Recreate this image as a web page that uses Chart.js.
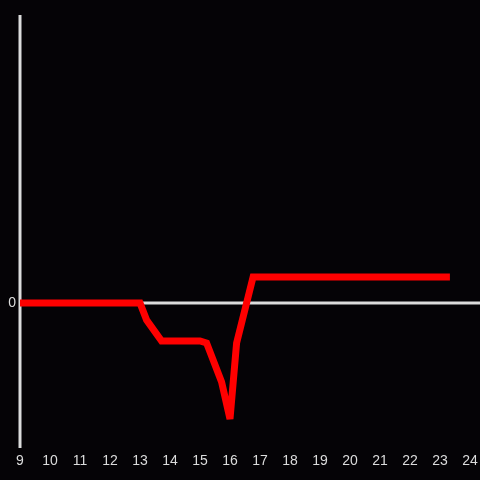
<!DOCTYPE html>
<html>
<head>
<meta charset="utf-8">
<script src="https://cdn.jsdelivr.net/npm/chart.js@4/dist/chart.umd.min.js"></script>
<style>
  html, body { margin: 0; padding: 0; background: #050306; }
</style>
</head>
<body>
<canvas id="chart" width="480" height="480"></canvas>
<script>
// hours of day (x) and offset values (y)
const hours = [9, 13, 13.22, 13.72, 15, 15.22, 15.72, 16, 16.22, 16.77, 23.33];
const values = [0, 0, -17, -38, -38, -40, -79, -116, -40, 26, 26];
const xTicks = [9, 10, 11, 12, 13, 14, 15, 16, 17, 18, 19, 20, 21, 22, 23, 24];
const yTicks = [0];

const axisColor = '#dcdcdc';

// paints the dark backdrop, the axis line and the zero line across the full width
const backdrop = {
  id: 'backdrop',
  beforeDraw(chart) {
    let ctx = chart.ctx;
    ctx.save();
    ctx.fillStyle = '#050306';
    ctx.fillRect(0, 0, chart.width, chart.height);
    ctx.restore();
  },
  beforeDatasetsDraw(chart) {
    let ctx = chart.ctx;
    let y = chart.scales.y;
    let area = chart.chartArea;
    ctx.save();
    ctx.strokeStyle = axisColor;
    ctx.lineWidth = 3;
    ctx.beginPath();
    ctx.moveTo(area.left, y.getPixelForValue(0));
    ctx.lineTo(chart.width, y.getPixelForValue(0));
    ctx.stroke();
    ctx.beginPath();
    ctx.moveTo(area.left, area.top);
    ctx.lineTo(area.left, area.bottom);
    ctx.stroke();
    ctx.restore();
    // sharp spike gets a cut tip like the reference
    ctx.miterLimit = 4;
  }
};

new Chart(document.getElementById('chart'), {
  type: 'line',
  data: {
    datasets: [{
      data: hours.map((h, i) => ({ x: h, y: values[i] })),
      borderColor: '#ff0000',
      borderWidth: 7,
      pointRadius: 0,
      tension: 0,
      fill: false,
    }]
  },
  options: {
    responsive: false,
    animation: false,
    devicePixelRatio: 1,
    layout: { padding: { top: 15, right: 10, left: 0, bottom: 0 } },
    plugins: { legend: { display: false }, tooltip: { enabled: false } },
    scales: {
      x: {
        type: 'linear',
        min: 9,
        max: 24,
        afterBuildTicks: s => { s.ticks = xTicks.map(v => ({ value: v })); },
        afterFit: s => { s.height = 32; s.paddingLeft = 0; s.paddingRight = 0; },
        grid: { display: false, drawTicks: false },
        border: { display: false },
        ticks: { color: axisColor, font: { family: 'Liberation Sans', size: 14 }, padding: 5, maxRotation: 0, autoSkip: false },
      },
      y: {
        min: -145,
        max: 288,
        afterBuildTicks: s => { s.ticks = yTicks.map(v => ({ value: v })); },
        afterFit: s => { s.width = 20; },
        grid: { display: false, drawTicks: false },
        border: { display: false },
        ticks: { color: axisColor, font: { family: 'Liberation Sans', size: 14 }, padding: 4 },
      }
    }
  },
  plugins: [backdrop]
});
</script>
</body>
</html>
